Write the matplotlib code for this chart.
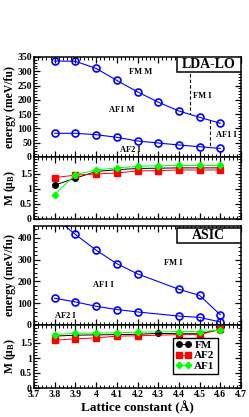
import numpy as np
import matplotlib
matplotlib.use('Agg')
import matplotlib.pyplot as plt
from matplotlib.ticker import MultipleLocator, FormatStrFormatter
from matplotlib.patches import Rectangle

plt.rcParams['font.family'] = ['Liberation Serif', 'DejaVu Serif']
plt.rcParams['font.weight'] = 'bold'
plt.rcParams['mathtext.fontset'] = 'custom'
plt.rcParams['mathtext.rm'] = 'Liberation Serif:bold'
plt.rcParams['mathtext.it'] = 'Liberation Serif:bold'

# LDA-LO data
lattice = [3.8, 3.9, 4.0, 4.1, 4.2, 4.3, 4.4, 4.5, 4.6]
lda_fm = [336, 335, 310, 268, 228, 192, 161, 139, 118]
lda_af = [83, 83, 78, 69, 56, 49, 42, 36, 30]
lda_m_fm = [1.12, 1.35, 1.57, 1.63, 1.67, 1.68, 1.69, 1.69, 1.69]
lda_m_af2 = [1.37, 1.45, 1.49, 1.52, 1.59, 1.60, 1.62, 1.62, 1.62]
lda_m_af1 = [0.81, 1.47, 1.62, 1.69, 1.74, 1.76, 1.77, 1.77, 1.77]

# phase boundaries (x, y_from, y_to)
bound1 = [4.455, 350, 150]
bound2 = [4.55, 128, 36]

# ASIC data (no 4.3 point except FM moment)
asic_x = [3.8, 3.9, 4.0, 4.1, 4.2, 4.4, 4.5, 4.6]
asic_fm = [495, 416, 344, 282, 235, 164, 136, 47]
asic_af = [123, 106, 86, 71, 60, 41, 35, 14]
asic_m_fm = [1.73, 1.76, 1.77, 1.78, 1.79, 1.82, 1.81, 1.81, 1.95]
asic_m_af2 = [1.59, 1.64, 1.67, 1.73, 1.74, 1.78, 1.78, 1.96]
asic_m_af1 = [1.78, 1.82, 1.83, 1.84, 1.86, 1.88, 1.88, 1.93]

W, H = 249, 417
fig = plt.figure(figsize=(W / 100, H / 100), dpi=100)


def pos(top, bottom, left=34, right=241):
    return [left / W, (H - bottom) / H, (right - left) / W, (bottom - top) / H]


ax1 = fig.add_axes(pos(57, 157))
ax2 = fig.add_axes(pos(157, 219))
ax3 = fig.add_axes(pos(226, 325))
ax4 = fig.add_axes(pos(325, 388))

for ax in [ax1, ax2, ax3, ax4]:
    ax.set_xlim(3.7, 4.7)
    ax.xaxis.set_major_locator(MultipleLocator(0.1))
    ax.xaxis.set_minor_locator(MultipleLocator(0.02))
    ax.xaxis.set_major_formatter(FormatStrFormatter('%g'))
    ax.yaxis.set_major_formatter(FormatStrFormatter('%g'))
    ax.tick_params(which='both', direction='in', top=True, right=True, labelsize=7, pad=1.5)
    ax.tick_params(which='major', length=4, width=0.9)
    ax.tick_params(which='minor', length=2, width=0.7)
    for s in ax.spines.values():
        s.set_linewidth(1.1)
    if ax is not ax4:
        ax.tick_params(labelbottom=False)

blue = '#0000ff'
ekw = dict(color=blue, lw=0.8, marker='o', ms=5, mfc='none', mec=blue, mew=1.2)

# panel 1
ax1.plot(lattice, lda_fm, **ekw)
ax1.plot(lattice, lda_af, **ekw)
ax1.plot([bound1[0], bound1[0]], bound1[1:], 'k--', lw=0.8, dashes=(3, 2))
ax1.plot([bound2[0], bound2[0]], bound2[1:], 'k--', lw=0.8, dashes=(3, 2))
ax1.set_ylim(0, 350)
ax1.yaxis.set_major_locator(MultipleLocator(50))
ax1.yaxis.set_minor_locator(MultipleLocator(10))
tkw = dict(fontsize=6, fontweight='bold', ha='center', va='center')
ax1.text(4.214, 298, 'FM M', **tkw)
ax1.text(4.126, 165, 'AF1 M', **tkw)
ax1.text(4.515, 214, 'FM I', **tkw)
ax1.text(4.627, 78, 'AF1 I', **tkw)
ax1.text(4.166, 24, 'AF2 I', **tkw)
ax1.add_patch(Rectangle((0.69, 0.85), 0.31, 0.15, transform=ax1.transAxes,
                        facecolor='white', edgecolor='black', lw=1.1, zorder=5))
ax1.text(0.845, 0.925, 'LDA-LO', transform=ax1.transAxes, fontsize=10,
         fontweight='bold', ha='center', va='center', zorder=6)

mkw_fm = dict(color='black', lw=0.7, marker='o', ms=4)
mkw_af2 = dict(color='#ff0000', lw=0.7, marker='s', ms=3.8)
mkw_af1 = dict(color='#00ff00', lw=0.7, marker='D', ms=3.3)

# panel 2
ax2.plot(lattice, lda_m_fm, **mkw_fm)
ax2.plot(lattice, lda_m_af2, **mkw_af2)
ax2.plot(lattice, lda_m_af1, **mkw_af1)
ax2.set_ylim(0, 2.05)
ax2.set_yticks([0, 0.5, 1, 1.5])
ax2.yaxis.set_minor_locator(MultipleLocator(0.1))

# panel 3
ax3.plot(asic_x, asic_fm, **ekw)
ax3.plot(asic_x, asic_af, **ekw)
ax3.set_ylim(0, 455)
ax3.set_yticks([0, 100, 200, 300, 400])
ax3.yaxis.set_minor_locator(MultipleLocator(20))
ax3.text(4.375, 286, 'FM I', **tkw)
ax3.text(4.037, 186, 'AF1 I', **tkw)
ax3.text(3.852, 40, 'AF2 I', **tkw)
ax3.add_patch(Rectangle((0.69, 0.828), 0.31, 0.152, transform=ax3.transAxes,
                        facecolor='white', edgecolor='black', lw=1.1, zorder=5))
ax3.text(0.845, 0.904, 'ASIC', transform=ax3.transAxes, fontsize=10,
         fontweight='bold', ha='center', va='center', zorder=6)

# panel 4
ax4.plot(lattice, asic_m_fm, label='FM', **mkw_fm)
ax4.plot(asic_x, asic_m_af2, label='AF2', **mkw_af2)
ax4.plot(asic_x, asic_m_af1, label='AF1', **mkw_af1)
ax4.set_ylim(0, 2.1)
ax4.set_yticks([0, 0.5, 1, 1.5])
ax4.yaxis.set_minor_locator(MultipleLocator(0.1))
ax4.set_xlabel('Lattice constant (Å)', fontsize=9.5, fontweight='bold', labelpad=1)
leg = ax4.legend(loc='upper left', bbox_to_anchor=(0.67, 0.8), borderaxespad=0,
                 numpoints=2, handlelength=1.4, handletextpad=0.3, labelspacing=0.05,
                 borderpad=0.25, fontsize=8, fancybox=False, framealpha=1)
leg.get_frame().set_edgecolor('black')
leg.get_frame().set_linewidth(1.0)

for ax, lab in [(ax1, 'energy (meV/fu)'), (ax2, 'M (μ$_{\\rm B}$)'),
                (ax3, 'energy (meV/fu)'), (ax4, 'M (μ$_{\\rm B}$)')]:
    ax.set_ylabel(lab, fontsize=8.5, fontweight='bold', va='center')
    ax.yaxis.set_label_coords(-0.118, 0.5)

fig.savefig('out.png', dpi=100)
